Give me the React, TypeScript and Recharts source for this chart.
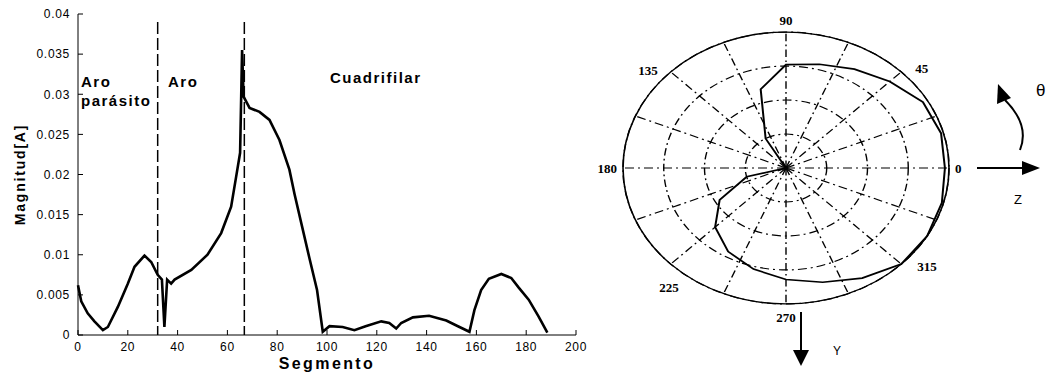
import React from 'react';
import {
  LineChart,
  Line,
  XAxis,
  YAxis,
  ReferenceLine,
  Customized,
  RadarChart,
  Radar,
  PolarGrid,
  PolarAngleAxis,
  PolarRadiusAxis,
} from 'recharts';

// current magnitude along the antenna segments
const segments = [
  0, 1.3, 3.9, 6.6, 10, 12, 16, 20, 22.7, 26.7, 29.4, 32, 33.7, 34.7, 35.8, 37.4, 38.8, 45.5, 52,
  57.5, 61.5, 63.5, 65.1, 65.9, 66.5, 68.9, 72.9, 76.9, 80.9, 84.9, 87, 90, 93, 96, 98.3, 101,
  106.3, 111, 115.5, 121.8, 125, 127.8, 129.8, 134.5, 141, 147.9, 153.2, 157.2, 159.2, 161.9, 165,
  170, 174, 177, 181, 185, 188.5,
];
const magnitude = [
  0.0062, 0.0042, 0.0027, 0.0017, 0.0006, 0.001, 0.0035, 0.0064, 0.0085, 0.0099, 0.0091, 0.0075,
  0.0069, 0.001, 0.0069, 0.0064, 0.0069, 0.0081, 0.01, 0.0127, 0.016, 0.0197, 0.0227, 0.0355,
  0.0297, 0.0283, 0.0278, 0.0268, 0.0243, 0.0206, 0.0175, 0.0135, 0.0095, 0.0056, 0.0004, 0.0011,
  0.001, 0.0006, 0.0011, 0.0017, 0.0015, 0.0008, 0.0015, 0.0022, 0.0024, 0.0018, 0.001, 0.0004,
  0.0031, 0.0056, 0.007, 0.0076, 0.0071, 0.0059, 0.0044, 0.0023, 0.0003,
];
const xTicks = [0, 20, 40, 60, 80, 100, 120, 140, 160, 180, 200];
const yTicks = [0, 0.005, 0.01, 0.015, 0.02, 0.025, 0.03, 0.035, 0.04];
const regionBounds = [32, 66.8];

// radiation pattern (normalised), every 15 degrees
const patternAngles = [
  0, 15, 30, 45, 60, 75, 90, 105, 120, 135, 150, 165, 180, 195, 210, 225, 240, 255, 270, 285, 300,
  315, 330, 345,
];
const patternGain = [
  0.975, 0.985, 0.97, 0.9, 0.84, 0.79, 0.76, 0.6, 0.25, 0, 0, 0, 0, 0.25, 0.47, 0.615, 0.71, 0.77,
  0.82, 0.87, 0.935, 1, 1, 0.99,
];
const spokeAngles = [
  0, 22.5, 45, 67.5, 90, 112.5, 135, 157.5, 180, 202.5, 225, 247.5, 270, 292.5, 315, 337.5,
];
const ringLevels = [0.25, 0.5, 0.75, 1];

const lineData = segments.map((s, i) => ({ segment: s, magnitude: magnitude[i] }));
const polarData = patternAngles.map((a, i) => ({ deg: a, gain: patternGain[i] }));

const SANS = 'Liberation Sans, Arial, sans-serif';
const SERIF = 'Liberation Serif, Times New Roman, serif';
const SQUASH = 0.834;
const OUTER_R = 163;

const tickStyle = { fill: '#000', fontSize: 12, fontFamily: SANS, letterSpacing: 0.7 };

const RegionLabels = () => (
  <g fontFamily={SANS} fontWeight="bold" fontSize={15} fill="#000" letterSpacing={1.5}>
    <text x={81} y={87}>Aro</text>
    <text x={81} y={106}>parásito</text>
    <text x={168} y={87}>Aro</text>
    <text x={330} y={83}>Cuadrifilar</text>
  </g>
);

const labelNudge: Record<number, [number, number]> = {
  0: [-8, 0],
  45: [4, 5],
  90: [0, 0],
  135: [-3, 7],
  180: [8, 0],
  225: [18, 15],
  270: [0, 2],
  315: [6, -6],
};

const AngleTick = (props: any) => {
  const { x, y, payload } = props;
  const v = Number(payload.value);
  if (v % 45 !== 0 || v >= 360) return <g />;
  const c = Math.cos((v * Math.PI) / 180);
  const anchor = Math.abs(c) < 0.01 ? 'middle' : c > 0 ? 'start' : 'end';
  const [dx, dy] = labelNudge[v] || [0, 0];
  return (
    <g transform={`translate(${x + dx},${y + dy / SQUASH}) scale(1,${1 / SQUASH})`}>
      <text
        x={0}
        y={0}
        textAnchor={anchor}
        dominantBaseline="central"
        fontFamily={SERIF}
        fontSize={13}
        fontWeight="bold"
        fill="#000"
      >
        {v}
      </text>
    </g>
  );
};

const App = () => {
  return (
    <div style={{ position: 'absolute', left: 0, top: 0, width: 1054, height: 374, background: '#fff' }}>
      <div style={{ position: 'absolute', left: 0, top: 0 }}>
        <LineChart
          width={600}
          height={374}
          data={lineData}
          margin={{ top: 14, right: 24, bottom: 0, left: 0 }}
        >
          <XAxis
            dataKey="segment"
            type="number"
            domain={[0, 200]}
            ticks={xTicks}
            height={39}
            tickSize={-5}
            tickMargin={12}
            stroke="#000"
            tick={tickStyle}
            label={{
              value: 'Segmento',
              position: 'insideBottom',
              offset: 5,
              style: { fill: '#000', fontSize: 16, fontWeight: 'bold', fontFamily: SANS, letterSpacing: 2.4 },
            }}
          />
          <XAxis
            xAxisId="top"
            orientation="top"
            type="number"
            domain={[0, 200]}
            ticks={xTicks}
            height={0}
            tickSize={-5}
            stroke="#000"
            tickFormatter={() => ''}
          />
          <YAxis
            type="number"
            domain={[0, 0.04]}
            ticks={yTicks}
            width={78}
            tickSize={-5}
            tickMargin={13}
            stroke="#000"
            tick={tickStyle}
            label={{
              value: 'Magnitud[A]',
              angle: -90,
              position: 'insideLeft',
              offset: 20,
              style: {
                textAnchor: 'middle',
                fill: '#000',
                fontSize: 14,
                fontWeight: 'bold',
                fontFamily: SANS,
                letterSpacing: 1.8,
              },
            }}
          />
          <YAxis
            yAxisId="right"
            orientation="right"
            type="number"
            domain={[0, 0.04]}
            ticks={yTicks}
            width={0}
            tickSize={-5}
            stroke="#000"
            tickFormatter={() => ''}
          />
          {regionBounds.map((b) => (
            <ReferenceLine
              key={b}
              segment={[
                { x: b, y: 0.039 },
                { x: b, y: 0 },
              ]}
              stroke="#000"
              strokeWidth={1.5}
              strokeDasharray="12 4"
            />
          ))}
          <Line
            type="linear"
            dataKey="magnitude"
            stroke="#000"
            strokeWidth={2.6}
            dot={false}
            isAnimationActive={false}
          />
          <Customized component={<RegionLabels />} />
        </LineChart>
      </div>

      <div
        style={{
          position: 'absolute',
          left: 566,
          top: -32,
          width: 440,
          height: 400,
          transform: `scaleY(${SQUASH})`,
          transformOrigin: '220px 200px',
        }}
      >
        <RadarChart
          width={440}
          height={400}
          data={polarData}
          cx={220}
          cy={200}
          outerRadius={OUTER_R}
          startAngle={0}
          endAngle={360}
          margin={{ top: 0, right: 0, bottom: 0, left: 0 }}
        >
          <PolarGrid
            gridType="circle"
            polarAngles={spokeAngles}
            polarRadius={ringLevels.map((f) => f * OUTER_R)}
            stroke="#000"
            strokeWidth={1.4}
            strokeDasharray="9 4 2 4"
          />
          <PolarAngleAxis
            dataKey="deg"
            type="number"
            domain={[0, 360]}
            tickCount={9}
            axisLineType="circle"
            axisLine={{ stroke: '#000', strokeWidth: 1.6 }}
            tickLine={false}
            tickSize={14}
            tick={AngleTick}
          />
          <PolarRadiusAxis domain={[0, 1]} tickCount={5} tick={false} axisLine={false} />
          <Radar
            dataKey="gain"
            stroke="#000"
            strokeWidth={2}
            fill="none"
            fillOpacity={0}
            dot={false}
            isAnimationActive={false}
          />
        </RadarChart>
      </div>

      <svg
        width={1054}
        height={374}
        style={{ position: 'absolute', left: 0, top: 0, pointerEvents: 'none' }}
      >
        <line x1={977} y1={168} x2={1026} y2={168} stroke="#000" strokeWidth={2} />
        <polygon points="1022,161 1040,168 1022,175" fill="#000" />
        <text x={1014} y={204} fontFamily={SANS} fontSize={13} fill="#000">Z</text>
        <path d="M1020,150 Q1030,125 1005,100" fill="none" stroke="#000" strokeWidth={2} />
        <polygon points="998,84 1011,98 997,104" fill="#000" />
        <text x={1036} y={96} fontFamily={SANS} fontSize={17} fill="#000">θ</text>
        <line x1={801} y1={312} x2={801} y2={352} stroke="#000" strokeWidth={2} />
        <polygon points="793,350 809,350 801,366" fill="#000" />
        <text x={833} y={355} fontFamily={SANS} fontSize={12} fill="#000">Y</text>
      </svg>
    </div>
  );
};

export default App;
